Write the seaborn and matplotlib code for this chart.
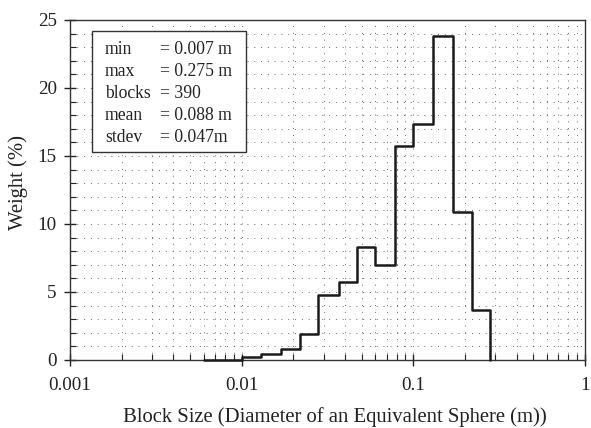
import numpy as np
import pandas as pd
import matplotlib
matplotlib.use("Agg")
import matplotlib.pyplot as plt
import seaborn as sns
from matplotlib.ticker import LogLocator, MultipleLocator, FixedFormatter, FixedLocator
from matplotlib.patches import Rectangle

# Bin edges (m) and weights (%)
bin_edges = [0.006, 0.010, 0.013, 0.017, 0.022, 0.028, 0.037, 0.047, 0.060,
             0.078, 0.100, 0.130, 0.170, 0.220, 0.279]
weights = [0.0, 0.2, 0.42, 0.8, 1.9, 4.75, 5.75, 8.3, 7.0,
           15.75, 17.35, 23.8, 10.9, 3.65]

x_ticks = [0.001, 0.01, 0.1, 1]
x_tick_labels = ["0.001", "0.01", "0.1", "1"]
y_ticks = [0, 5, 10, 15, 20, 25]

stat_names = ["min", "max", "blocks", "mean", "stdev"]
stat_values = ["= 0.007 m", "= 0.275 m", "= 390", "= 0.088 m", "= 0.047m"]

df = pd.DataFrame({"size": bin_edges, "weight": weights + [0.0]})

sns.set_theme(style="white")
plt.rcParams["font.family"] = ["Liberation Serif", "DejaVu Serif"]
plt.rcParams["font.size"] = 12

W, H = 591, 428
L, R, T, B = 70, 585, 20, 360
fig = plt.figure(figsize=(W / 100, H / 100), dpi=100)
ax = fig.add_axes([L / W, 1 - B / H, (R - L) / W, (B - T) / H])
renderer = fig.canvas.get_renderer()


def fit_size(text, target_px, base=12.0):
    t = fig.text(0, 0, text, fontsize=base)
    w = t.get_window_extent(renderer).width
    t.remove()
    return base * target_px / w


xlabel_txt = "Block Size (Diameter of an Equivalent Sphere (m))"
ylabel_txt = "Weight (%)"
label_fs = fit_size(xlabel_txt, 425)
tick_fs = fit_size("0.001", 43)
box_fs = fit_size("= 0.007 m", 72)

sns.lineplot(data=df, x="size", y="weight", ax=ax, drawstyle="steps-post",
             color="#1a1a1a", linewidth=1.8, estimator=None, sort=False,
             zorder=5, clip_on=False)

ax.set_xscale("log")
ax.set_xlim(0.001, 1)
ax.set_ylim(0, 25)

ax.xaxis.set_major_locator(FixedLocator(x_ticks))
ax.xaxis.set_major_formatter(FixedFormatter(x_tick_labels))
ax.xaxis.set_minor_locator(LogLocator(base=10, subs=np.arange(2, 10)))
ax.xaxis.set_minor_formatter(plt.NullFormatter())
ax.set_yticks(y_ticks)
ax.yaxis.set_minor_locator(MultipleLocator(1))

ax.tick_params(which="major", direction="inout", length=9, width=1,
               color="#222222", labelsize=tick_fs, labelcolor="#222222")
ax.tick_params(which="minor", direction="in", length=4.5, width=0.8,
               color="#222222")
ax.tick_params(axis="x", which="both", bottom=True, top=False)
ax.tick_params(axis="y", which="both", left=True, right=False)
ax.tick_params(axis="x", which="major", pad=8)
ax.tick_params(axis="y", which="major", pad=5)

ax.grid(True, which="both", axis="both", linestyle=(0, (1, 6)),
        linewidth=0.7, color="#666666")
ax.set_axisbelow(True)

for s in ax.spines.values():
    s.set_visible(True)
    s.set_color("#333333")
    s.set_linewidth(1.0)

ax.set_xlabel(xlabel_txt, fontsize=label_fs, color="#222222")
ax.set_ylabel(ylabel_txt, fontsize=label_fs, color="#222222")
aw, ah = R - L, B - T
ax.xaxis.set_label_coords((334.5 - L) / aw, (B - 417) / ah)
ax.xaxis.label.set_verticalalignment("center")
ax.yaxis.set_label_coords((18 - L) / aw, (B - 182) / ah)
ax.yaxis.label.set_verticalalignment("center")


def ax_x(px):
    return (px - L) / aw


def ax_y(py):
    return (B - py) / ah


box = Rectangle((ax_x(92), ax_y(152)), ax_x(246) - ax_x(92),
                ax_y(31) - ax_y(152), transform=ax.transAxes,
                facecolor="white", edgecolor="#333333", linewidth=1.0,
                zorder=6)
ax.add_patch(box)
ys = [50, 71.7, 93, 115, 137]
for name, val, yy in zip(stat_names, stat_values, ys):
    ax.text(ax_x(105), ax_y(yy), name, transform=ax.transAxes, fontsize=box_fs,
            color="#222222", va="center", ha="left", zorder=7)
    ax.text(ax_x(160), ax_y(yy), val, transform=ax.transAxes, fontsize=box_fs,
            color="#222222", va="center", ha="left", zorder=7)

fig.savefig("out.png", dpi=100)
